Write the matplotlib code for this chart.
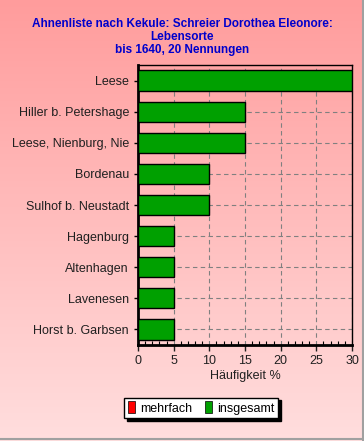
import numpy as np
import matplotlib.pyplot as plt
from matplotlib.patches import Patch
from matplotlib.ticker import MultipleLocator

plt.rcParams['font.family'] = ['Liberation Sans', 'DejaVu Sans']

orte = ['Leese', 'Hiller b. Petershage', 'Leese, Nienburg, Nie', 'Bordenau',
        'Sulhof b. Neustadt', 'Hagenburg', 'Altenhagen', 'Lavenesen', 'Horst b. Garbsen']
insgesamt = [30, 15, 15, 10, 10, 5, 5, 5, 5]
mehrfach = [0, 0, 0, 0, 0, 0, 0, 0, 0]

fig = plt.figure(figsize=(3.64, 4.41), dpi=100)

# Hintergrund mit Farbverlauf
bg = fig.add_axes([0, 0, 1, 1], zorder=-10)
top = np.array([255, 156, 156]) / 255
bot = np.array([255, 222, 222]) / 255
t = np.linspace(0, 1, 256)[:, None]
grad = top * (1 - t) + bot * t
bg.imshow(grad[:, None, :], aspect='auto', extent=[0, 1, 0, 1])
bg.set_xlim(0, 1)
bg.set_ylim(0, 1)
bg.plot([0.997, 0.997], [0, 1], color='#a0a0a0', linewidth=1.5)
bg.plot([0, 1], [0.004, 0.004], color='#a0a0a0', linewidth=1.5)
bg.axis('off')

ax = fig.add_axes([138 / 364, 1 - 345 / 441, 214 / 364, 280 / 441])
ax.patch.set_alpha(0)

y = np.arange(len(orte))
ax.barh(y, insgesamt, height=0.65, color='#00a000', edgecolor='black', linewidth=1, zorder=3)
ax.set_xlim(0, 30)
ax.set_ylim(len(orte) - 0.5, -0.5)
ax.set_yticks(y)
ax.set_yticklabels(orte, fontsize=9, color='#202020')
ax.xaxis.set_major_locator(MultipleLocator(5))
ax.xaxis.set_minor_locator(MultipleLocator(1))
ax.tick_params(axis='x', labelsize=9, length=4, width=1, colors='#202020')
ax.tick_params(axis='x', which='minor', direction='in', length=3, width=0.8)
ax.tick_params(axis='y', length=3, width=1)
ax.set_xlabel('Häufigkeit %', fontsize=9, color='#202020', labelpad=2)
ax.grid(True, linestyle=(0, (4, 3)), color='#808080', linewidth=0.8, zorder=0)
for s in ['left', 'bottom']:
    ax.spines[s].set_linewidth(2)
for s in ['top', 'right']:
    ax.spines[s].set_linewidth(1)

fig.text(0.5, 1 - 18 / 441, 'Ahnenliste nach Kekule: Schreier Dorothea Eleonore:\nLebensorte\nbis 1640, 20 Nennungen',
         ha='center', va='top', fontsize=8.5, fontweight='bold', color='#0000cc', linespacing=1.12)

handles = [Patch(facecolor='#ff0000', edgecolor='black', linewidth=0.5, label='mehrfach'),
           Patch(facecolor='#00a000', edgecolor='black', linewidth=0.5, label='insgesamt')]
leg = fig.legend(handles=handles, loc='center', bbox_to_anchor=(201 / 364, 1 - 408 / 441), ncol=2,
                 fontsize=9, frameon=True, fancybox=False, shadow={'color': 'black', 'alpha': 1},
                 handlelength=0.6, handleheight=1.1, handletextpad=0.4, columnspacing=1.0,
                 borderpad=0.3, edgecolor='black')
leg.get_frame().set_linewidth(1)

fig.savefig('out.png', dpi=100)
